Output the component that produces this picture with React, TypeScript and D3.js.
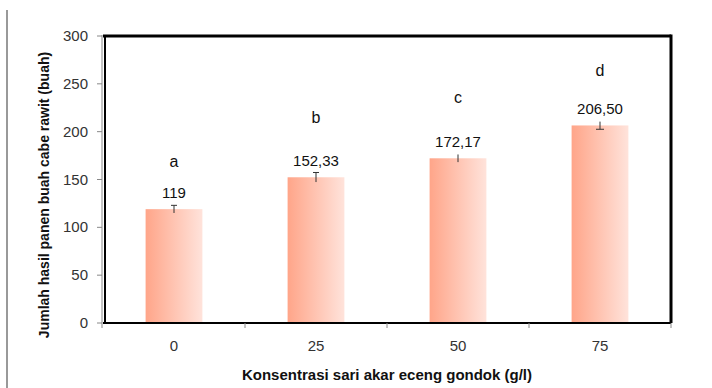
import React from "react";
import * as d3 from "d3";

const categories = ["0", "25", "50", "75"];
const values = [119, 152.33, 172.17, 206.5];
const valueLabels = ["119", "152,33", "172,17", "206,50"];
const errors = [4, 5, 4, 4];
const letters = ["a", "b", "c", "d"];
const letterLevels = [163, 209, 230, 258];
const yTicks = [0, 50, 100, 150, 200, 250, 300];

const W = 712, H = 388;
const left = 103, right = 671, top = 36, bottom = 323;

export default function App() {
  const x = d3.scaleBand<string>().domain(categories).range([left, right]).paddingInner(0.6).paddingOuter(0.3);
  const band = d3.scaleBand<string>().domain(categories).range([left, right]);
  const y = d3.scaleLinear().domain([0, 300]).range([bottom, top]);
  const font = "'Liberation Sans', Arial, sans-serif";
  return (
    <svg width={W} height={H} style={{ position: "absolute", left: 0, top: 0, background: "#fff" }}>
      <defs>
        <linearGradient id="barGrad" x1="0" x2="1" y1="0" y2="0">
          <stop offset="0" stopColor="#ffa589" />
          <stop offset="1" stopColor="#ffe3db" />
        </linearGradient>
      </defs>
      <rect width={W} height={H} fill="#fff" />
      <line x1={7} x2={7} y1={10} y2={H} stroke="#999" strokeWidth={2} />
      {/* bars */}
      {categories.map((c, i) => (
        <rect key={c} x={x(c)} y={y(values[i])} width={x.bandwidth()} height={bottom - y(values[i])} fill="url(#barGrad)" />
      ))}
      {/* error bars */}
      {categories.map((c, i) => {
        const cx = (x(c) as number) + x.bandwidth() / 2;
        const y1 = y(values[i] + errors[i]);
        const y2 = y(values[i] - errors[i]);
        return (
          <g key={"e" + c} stroke="#333" strokeWidth={1}>
            <line x1={cx} x2={cx} y1={y1} y2={y2} />
            {i < 2 && <line x1={cx - 3} x2={cx + 3} y1={y1} y2={y1} />}
            {i === 3 && <line x1={cx - 4} x2={cx + 4} y1={y2} y2={y2} />}
          </g>
        );
      })}
      {/* value labels */}
      {categories.map((c, i) => {
        const cx = (x(c) as number) + x.bandwidth() / 2;
        return (
          <text key={"v" + c} x={cx} y={y(values[i]) - 11} textAnchor="middle" fontFamily={font} fontSize={15} fill="#111">
            {valueLabels[i]}
          </text>
        );
      })}
      {categories.map((c, i) => {
        const cx = (x(c) as number) + x.bandwidth() / 2;
        return (
          <text key={"l" + c} x={cx} y={y(letterLevels[i])} textAnchor="middle" fontFamily={font} fontSize={16} fill="#111">
            {letters[i]}
          </text>
        );
      })}
      {/* frame */}
      <line x1={left} x2={right} y1={top} y2={top} stroke="#000" strokeWidth={3} />
      <line x1={right} x2={right} y1={top - 1.5} y2={bottom} stroke="#000" strokeWidth={3} />
      <line x1={left + 2} x2={left + 2} y1={top} y2={bottom} stroke="#000" strokeWidth={2} />
      <line x1={left} x2={right} y1={bottom} y2={bottom} stroke="#000" strokeWidth={2} />
      <line x1={left - 1} x2={left - 1} y1={top - 1} y2={bottom + 5} stroke="#888" strokeWidth={1} />
      {/* y ticks */}
      {yTicks.map((t) => (
        <g key={"y" + t}>
          <line x1={left - 6} x2={left - 1} y1={y(t)} y2={y(t)} stroke="#888" />
          <text x={88} y={y(t) + 5} textAnchor="end" fontFamily={font} fontSize={15} fill="#333">
            {t}
          </text>
        </g>
      ))}
      {/* x ticks */}
      {categories.map((c) => (
        <line key={"xt" + c} x1={(band(c) as number) + band.bandwidth()} x2={(band(c) as number) + band.bandwidth()} y1={bottom} y2={bottom + 5} stroke="#888" />
      ))}
      {categories.map((c) => (
        <text key={"xl" + c} x={(band(c) as number) + band.bandwidth() / 2} y={351} textAnchor="middle" fontFamily={font} fontSize={15} fill="#333">
          {c}
        </text>
      ))}
      <text x={387} y={380} textAnchor="middle" fontFamily={font} fontSize={15} fontWeight="bold" fill="#111">
        Konsentrasi sari akar eceng gondok (g/l)
      </text>
      <text transform={`translate(49,195) rotate(-90)`} textAnchor="middle" fontFamily={font} fontSize={14} fontWeight="bold" fill="#111">
        Jumlah hasil panen buah cabe rawit (buah)
      </text>
    </svg>
  );
}
